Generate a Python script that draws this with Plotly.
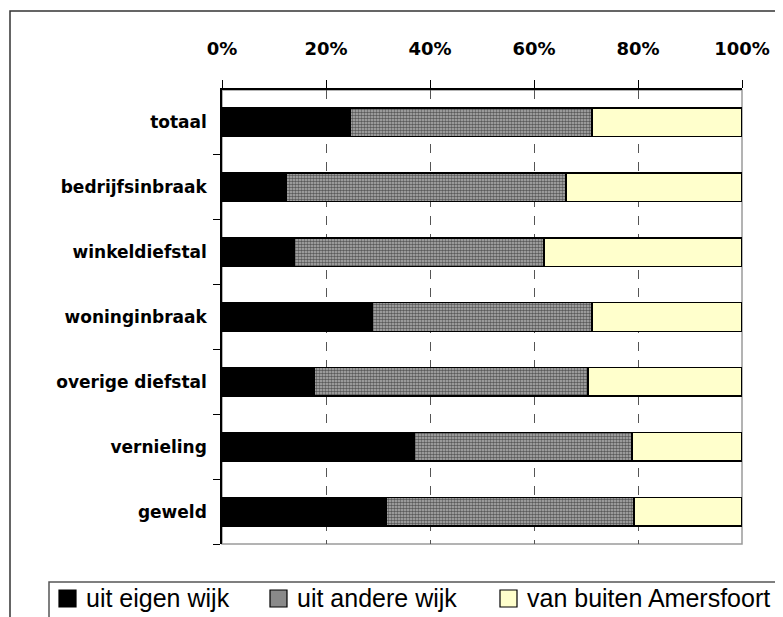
"""Herkomst van daders per delict: gestapelde horizontale balken (100%)."""

import plotly.graph_objects as go

# Categorieen van boven naar beneden, zoals in de grafiek.
CATEGORIES = ["totaal", "bedrijfsinbraak", "winkeldiefstal", "woninginbraak",
              "overige diefstal", "vernieling", "geweld"]

# Aandelen in procenten per herkomst.
EIGEN_WIJK = [24.6, 12.3, 13.8, 28.8, 17.7, 36.9, 31.5]
ANDERE_WIJK = [46.6, 53.9, 48.1, 42.4, 52.7, 41.9, 47.7]
BUITEN = [28.8, 33.8, 38.1, 28.8, 29.6, 21.2, 20.8]

SERIES = ["uit eigen wijk", "uit andere wijk", "van buiten Amersfoort"]
X_TICKS = [0, 20, 40, 60, 80, 100]

LEGEND_FILL = ["#000000", "#8a8a8a", "#ffffcc"]

# pagina heeft 8px body-marge; alles hieronder in schermpixels
OFF = 8
W, H = 783 - OFF, 617 - OFF
PLOT_L, PLOT_R, PLOT_T, PLOT_B = 222, 742, 90, 544
L, T = PLOT_L - OFF, PLOT_T - OFF
R, B = W - (PLOT_R - OFF), H - (PLOT_B - OFF)

BOLD = "DejaVu Sans, Verdana, sans-serif"
PLAIN = "Liberation Sans, Arial, sans-serif"


def px_x(px):
    return (px - PLOT_L) / (PLOT_R - PLOT_L)


def px_y(py):
    return (PLOT_B - py) / (PLOT_B - PLOT_T)


fig = go.Figure()
markers = [
    dict(color="#000000"),
    dict(color="#a8a8a8", pattern=dict(shape=".", fgcolor="#000000", bgcolor="#b4b4b4",
                                        size=3, solidity=0.55)),
    dict(color="#ffffcc"),
]
for name, vals, marker in zip(SERIES, [EIGEN_WIJK, ANDERE_WIJK, BUITEN], markers):
    fig.add_bar(x=vals, y=CATEGORIES, orientation="h", name=name, showlegend=False,
                marker=dict(line=dict(color="#000000", width=1.5), **marker))

shapes = [
    # rand van het plotgebied
    dict(type="rect", xref="paper", yref="paper", x0=0, x1=1, y0=0, y1=1,
         line=dict(color="#9a9a9a", width=1.5), layer="below"),
    # buitenrand van de grafiek
    dict(type="rect", xref="paper", yref="paper", x0=px_x(10), x1=px_x(810),
         y0=px_y(650), y1=px_y(11), line=dict(color="#333333", width=1.5)),
    # kader van de legenda
    dict(type="rect", xref="paper", yref="paper", x0=px_x(49), x1=px_x(805),
         y0=px_y(640), y1=px_y(582), line=dict(color="#555555", width=1.5)),
]

# eigen legenda: vierkantje + tekst per reeks
annotations = []
legend_x = [59, 270, 500]
for name, fill, x0 in zip(SERIES, LEGEND_FILL, legend_x):
    shapes.append(dict(type="rect", xref="paper", yref="paper",
                       x0=px_x(x0), x1=px_x(x0 + 17), y0=px_y(607), y1=px_y(590),
                       fillcolor=fill, line=dict(color="#000000", width=1.2)))
    annotations.append(dict(text=name, xref="paper", yref="paper", x=px_x(x0 + 25),
                            y=px_y(598), xanchor="left", yanchor="middle",
                            showarrow=False, font=dict(family=PLAIN, size=25)))

fig.update_layout(
    barmode="stack", bargap=0.56, width=W, height=H,
    margin=dict(l=L, r=R, t=T, b=B),
    plot_bgcolor="white", paper_bgcolor="white",
    font=dict(family=PLAIN, color="#000000"),
    shapes=shapes, annotations=annotations, showlegend=False,
)
fig.update_xaxes(side="top", range=[0, 100], tickvals=X_TICKS,
                 ticktext=[f"<b>{v}%</b>" for v in X_TICKS],
                 tickfont=dict(size=18, family=BOLD),
                 ticks="outside", ticklen=8, tickcolor="#000000", ticklabelstandoff=18,
                 showline=True, linecolor="#000000", linewidth=1.5,
                 showgrid=True, gridcolor="#555555", griddash="dash", gridwidth=1,
                 zeroline=False, fixedrange=True)
fig.update_yaxes(categoryorder="array", categoryarray=CATEGORIES[::-1],
                 tickvals=CATEGORIES, ticktext=[f"<b>{c}</b>" for c in CATEGORIES],
                 tickson="boundaries", ticks="outside", ticklen=7, tickcolor="#000000",
                 showline=True, linecolor="#000000", linewidth=1.5, showgrid=False,
                 tickfont=dict(size=17, family=BOLD), ticklabelstandoff=10,
                 fixedrange=True)

fig.write_html("out.html")
